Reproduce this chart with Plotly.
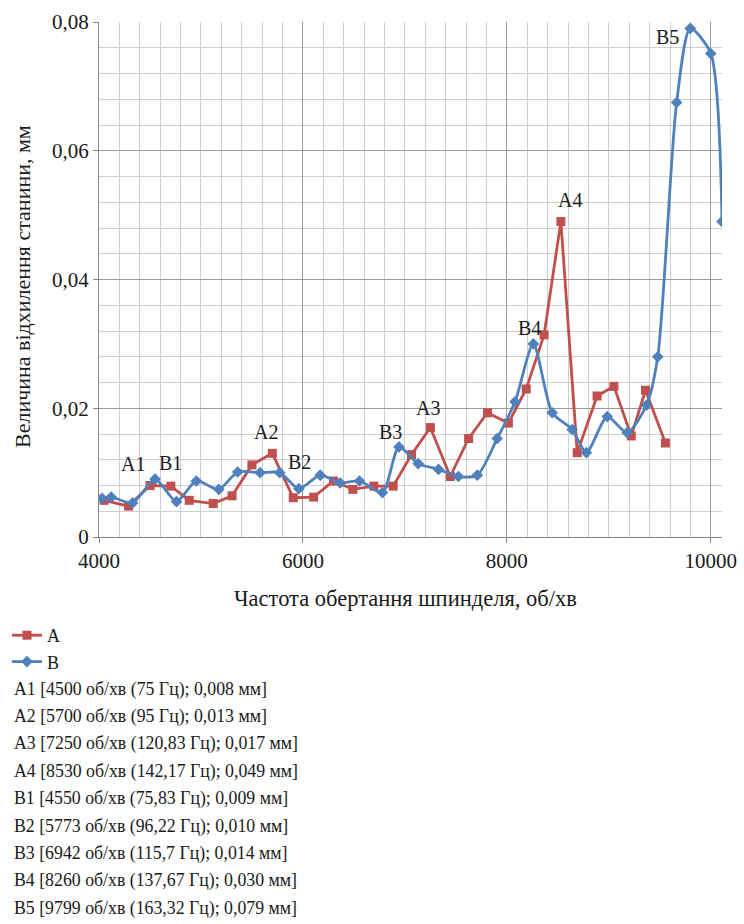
import plotly.graph_objects as go

# Series A: spindle speed (rpm) and frame deflection (mm)
a_rpm = [4050, 4290, 4500, 4705, 4885, 5120, 5305, 5500, 5700, 5905,
         6105, 6300, 6490, 6695, 6885, 7065, 7250, 7445, 7625, 7810,
         8015, 8190, 8365, 8530, 8690, 8885, 9050, 9220, 9360, 9555]
a_dev = [0.0057, 0.0048, 0.008, 0.0079, 0.0057, 0.0052, 0.0064, 0.0112, 0.013, 0.0061,
         0.0062, 0.0087, 0.0074, 0.0079, 0.0079, 0.0128, 0.017, 0.0094, 0.0153, 0.0193,
         0.0177, 0.0230, 0.0314, 0.049, 0.0131, 0.0219, 0.0234, 0.0157, 0.0228, 0.0146]

# Series B
b_rpm = [4030, 4120, 4330, 4550, 4760, 4955, 5175, 5360, 5580, 5773,
         5960, 6170, 6365, 6555, 6780, 6942, 7130, 7330, 7525, 7710,
         7905, 8080, 8260, 8445, 8640, 8780, 8985, 9180, 9370, 9480,
         9665, 9799, 10000, 10110]
b_dev = [0.0060, 0.0062, 0.0053, 0.009, 0.0055, 0.0087, 0.0074, 0.0101, 0.0100, 0.010,
         0.0075, 0.0096, 0.0084, 0.0087, 0.0069, 0.014, 0.0114, 0.0105, 0.0094, 0.0096,
         0.0153, 0.0210, 0.030, 0.0193, 0.0167, 0.0131, 0.0187, 0.0162, 0.0205, 0.0280,
         0.0675, 0.079, 0.0751, 0.049]

# Resonance points: name, rpm, Hz text, deflection
peak_names = ["A1", "A2", "A3", "A4", "B1", "B2", "B3", "B4", "B5"]
peak_rpm = [4500, 5700, 7250, 8530, 4550, 5773, 6942, 8260, 9799]
peak_hz = ["75", "95", "120,83", "142,17", "75,83", "96,22", "115,7", "137,67", "163,32"]
peak_dev_text = ["0,008", "0,013", "0,017", "0,049", "0,009", "0,010", "0,014", "0,030", "0,079"]
peak_dev = [0.008, 0.013, 0.017, 0.049, 0.009, 0.010, 0.014, 0.030, 0.079]
# label offsets in pixels (dx, dy) from each point
peak_shift = [(-17, 22), (-6, 21), (-2, 20), (9, 22), (15, 16), (20, 11), (-8, 15), (-4, 16), (-23, -9)]

y_ticks = [0, 0.02, 0.04, 0.06, 0.08]
y_tick_text = ["0", "0,02", "0,04", "0,06", "0,08"]
x_ticks = [4000, 6000, 8000, 10000]

RED = "#C0504D"
BLUE = "#4F81BD"
FONT = "Liberation Serif"
TXT = "#1a1a1a"
W, H = 744, 924
ML, MR, MT, MB = 99, 22, 22, 387
PW, PH = W - ML - MR, H - MT - MB


def px_x(px):
    return (px - ML) / PW


def px_y(py):
    return (H - MB - py) / PH


fig = go.Figure()
fig.add_trace(go.Scatter(
    x=a_rpm, y=a_dev, name="A", mode="lines+markers", legendgroup="a",
    line=dict(color=RED, width=2.8),
    marker=dict(symbol="square", size=9, color=RED),
))
fig.add_trace(go.Scatter(
    x=b_rpm, y=b_dev, name="B", mode="lines+markers", legendgroup="b",
    line=dict(color=BLUE, width=2.8, shape="spline", smoothing=0.7),
    marker=dict(symbol="diamond", size=9, color=BLUE),
))

# point labels
for name, rpm, dev, (dx, dy) in zip(peak_names, peak_rpm, peak_dev, peak_shift):
    fig.add_annotation(x=rpm, y=dev, text=name, showarrow=False,
                       xshift=dx, yshift=dy, font=dict(family=FONT, size=20, color=TXT))

# list of resonance points under the legend
for i, (name, rpm, hz, dev) in enumerate(zip(peak_names, peak_rpm, peak_hz, peak_dev_text)):
    py = 689 + i * 27.4
    fig.add_annotation(
        xref="paper", yref="paper", x=px_x(12), y=px_y(py),
        xanchor="left", yanchor="middle", showarrow=False,
        text=f"{name} [{rpm} об/хв ({hz} Гц); {dev} мм]",
        font=dict(family=FONT, size=17.8, color=TXT),
    )

# axis titles
fig.add_annotation(xref="paper", yref="paper", x=px_x(405), y=px_y(598),
                   xanchor="center", yanchor="middle", showarrow=False,
                   text="Частота обертання шпинделя, об/хв",
                   font=dict(family=FONT, size=22.5, color=TXT))
fig.add_annotation(xref="paper", yref="paper", x=px_x(22), y=px_y(287),
                   xanchor="center", yanchor="middle", showarrow=False, textangle=-90,
                   text="Величина відхилення станини, мм",
                   font=dict(family=FONT, size=22, color=TXT))

fig.update_layout(
    width=W, height=H,
    margin=dict(l=ML, r=MR, t=MT, b=MB, autoexpand=False),
    paper_bgcolor="white", plot_bgcolor="white",
    font=dict(family=FONT, size=18, color=TXT),
    showlegend=True,
    legend=dict(
        xref="container", yref="container",
        x=7 / W, y=1 - 617 / H, xanchor="left", yanchor="top",
        font=dict(family=FONT, size=18, color=TXT),
        itemwidth=30, tracegroupgap=0, bgcolor="rgba(0,0,0,0)",
    ),
    xaxis=dict(
        range=[4000, 10110], tickvals=x_ticks, tickformat="d", automargin=False,
        showgrid=True, gridcolor="#9a9a9a", gridwidth=1,
        minor=dict(dtick=200, tick0=4000, showgrid=True, gridcolor="#cfcfcf", gridwidth=1),
        showline=True, linecolor="#868686", linewidth=1,
        ticks="outside", ticklen=5, tickcolor="#868686",
        zeroline=False,
        tickfont=dict(family=FONT, size=21, color=TXT),
    ),
    yaxis=dict(
        range=[0, 0.08], tickvals=y_ticks, ticktext=y_tick_text, automargin=False,
        showgrid=True, gridcolor="#9a9a9a", gridwidth=1,
        minor=dict(dtick=0.004, tick0=0, showgrid=True, gridcolor="#cfcfcf", gridwidth=1),
        showline=True, linecolor="#868686", linewidth=1,
        ticks="outside", ticklen=5, tickcolor="#868686",
        zeroline=False,
        tickfont=dict(family=FONT, size=21, color=TXT),
    ),
)

fig.write_html("out.html")
